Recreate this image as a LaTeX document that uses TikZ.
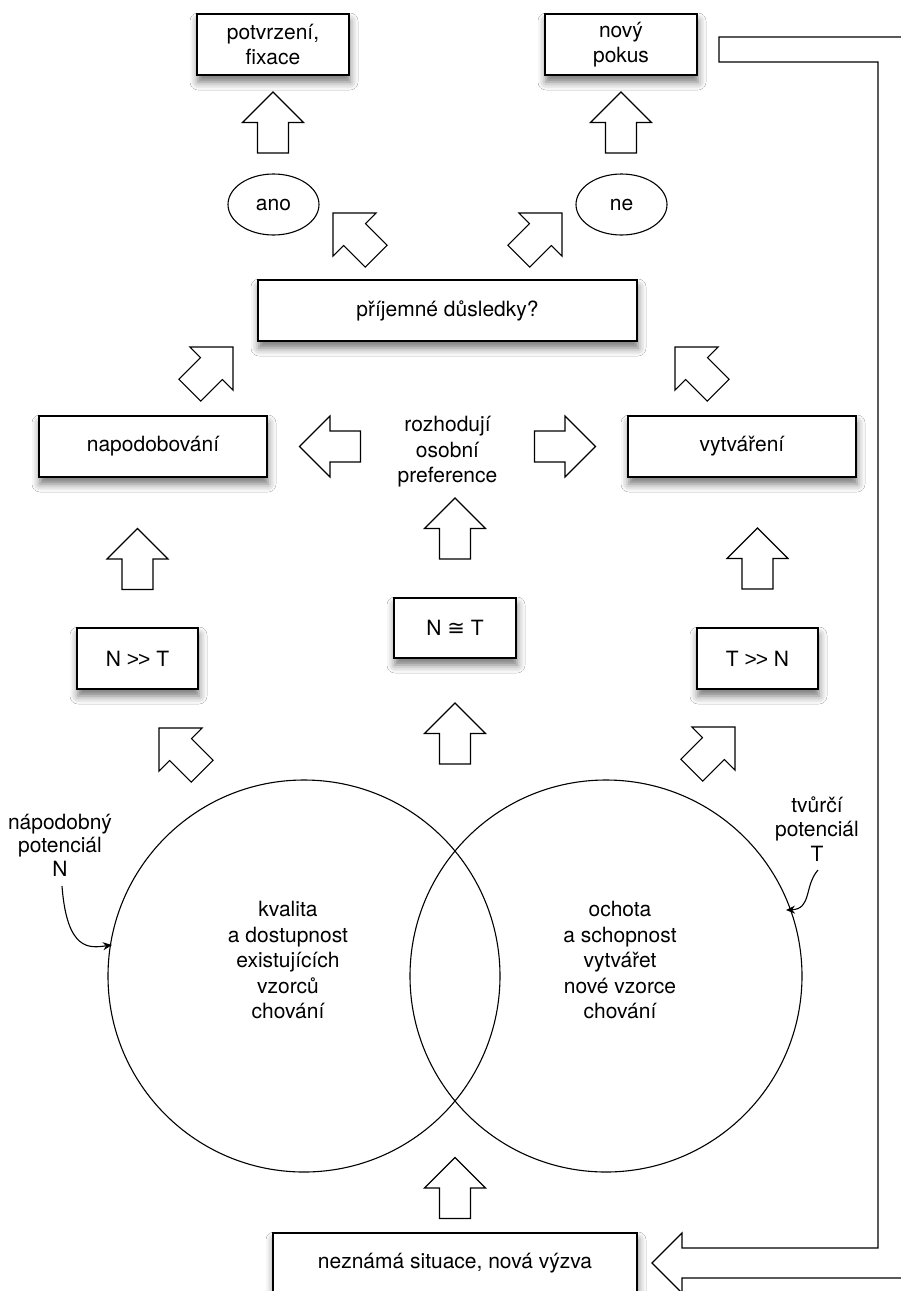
\documentclass[tikz,border=0pt]{standalone}
\usepackage{fontspec}
\setmainfont{TeX Gyre Heros}
\newfontfamily\symfnt{DejaVu Sans}
\newfontfamily\arfnt{Liberation Sans}
\usetikzlibrary{arrows.meta,shadows.blur,shapes.geometric}
\tikzset{
  box/.style={draw, line width=1.1pt, fill=white, minimum height=61pt, align=center, inner sep=0pt,
    blur shadow={shadow xshift=1pt, shadow yshift=-7pt, shadow blur radius=8pt, shadow opacity=55}},
  oval/.style={draw, line width=1.1pt, ellipse, minimum width=91pt, minimum height=61pt, inner sep=0pt},
  lbl/.style={align=center, inner sep=0pt},
  blockarr/.pic={\draw[line width=1.1pt, fill=white, line join=miter]
     (30.5,0) -- (0,30.5) -- (0,15.5) -- (-30.5,15.5) -- (-30.5,-15.5) -- (0,-15.5) -- (0,-30.5) -- cycle;},
  curvarr/.style={line width=1.1pt, -{Stealth[length=9pt,width=8pt]}}
}
\begin{document}
\begin{tikzpicture}[x=1pt,y=-1pt,font=\fontsize{21}{25.5}\selectfont]
\useasboundingbox (0,0) rectangle (901,1291);
\fill[white] (0,0) rectangle (901,1291);
\clip (0,0) rectangle (901,1291);

% circles
\draw[line width=1.1pt] (304,976) circle[radius=196pt];
\draw[line width=1.1pt] (606,976) circle[radius=196pt];
\node[lbl] (kval) at (288,960) {kvalita\\a dostupnost\\existujících\\vzorců\\chování};
\node[lbl] (ocho) at (620,960) {ochota\\a schopnost\\vytvářet\\nové vzorce\\chování};

% annotations
\node[lbl, font=\fontsize{21}{23.5}\selectfont] (napot) at (60,845) {nápodobný\\potenciál\\N};
\node[lbl, font=\fontsize{21}{24.5}\selectfont] (tvpot) at (817,829) {tvůrčí\\potenciál\\T};
\coordinate (ns) at (62,886);
\coordinate (ne) at (112,945);
\coordinate (ts) at (818,870);
\coordinate (te) at (786,910);
\draw[curvarr] (ns) .. controls (67,952) and (90,948) .. (ne);
\draw[curvarr] (ts) .. controls (804,886) and (812,909) .. (te);

% boxes
\node[box, minimum width=152pt] (potv) at (273,44.5) {potvrzení,\\fixace};
\node[box, minimum width=152pt] (novy) at (621,44.5) {nový\\pokus};
\node[oval] (ano) at (273.5,204.5) {ano};
\node[oval] (ne) at (621.5,204.5) {ne};
\node[box, minimum width=379pt] (prij) at (447.5,310.5) {příjemné důsledky?};
\node[box, minimum width=228pt] (napo) at (153,446.5) {napodobování};
\node[box, minimum width=228pt] (vytv) at (742,446.5) {vytváření};
\node[lbl] (rozh) at (447.5,452) {rozhodují\\osobní\\preference};
\node[box, minimum width=121pt] (nt) at (137.5,658.5) {N {\arfnt >\kern-1pt>} T};
\node[box, minimum width=122pt, minimum height=60pt] (neq) at (455,628) {N {\symfnt ≅} T};
\node[box, minimum width=121pt] (tn) at (757.5,658.5) {T {\arfnt >\kern-1pt>} N};
\node[box, minimum width=364pt] (nezn) at (455,1263.5) {neznámá situace, nová výzva};

% block arrows
\path (273,122.5) pic[rotate=90] {blockarr};
\path (621,122.5) pic[rotate=90] {blockarr};
\path (354.6,234.6) pic[rotate=135] {blockarr};
\path (540.4,234.6) pic[rotate=45] {blockarr};
\path (211.4,368.6) pic[rotate=45] {blockarr};
\path (696.6,368.6) pic[rotate=135] {blockarr};
\path (330,446.5) pic[rotate=180] {blockarr};
\path (565,446.5) pic[rotate=0] {blockarr};
\path (137.5,559) pic[rotate=90] {blockarr};
\path (757.5,558.5) pic[rotate=90] {blockarr};
\path (455,528.5) pic[rotate=90] {blockarr};
\path (455,733.5) pic[rotate=90] {blockarr};
\path (180.6,749.6) pic[rotate=135] {blockarr};
\path (713.4,748.6) pic[rotate=45] {blockarr};
\path (455,1188) pic[rotate=90] {blockarr};

% feedback arrow
\draw[line width=1.1pt, line join=miter, fill=white]
  (719,37) -- (906,37) -- (906,1278) -- (682,1278) -- (682,1293) -- (652,1263)
  -- (682,1233) -- (682,1248) -- (878,1248) -- (878,62) -- (719,62) -- cycle;
\end{tikzpicture}
\end{document}
